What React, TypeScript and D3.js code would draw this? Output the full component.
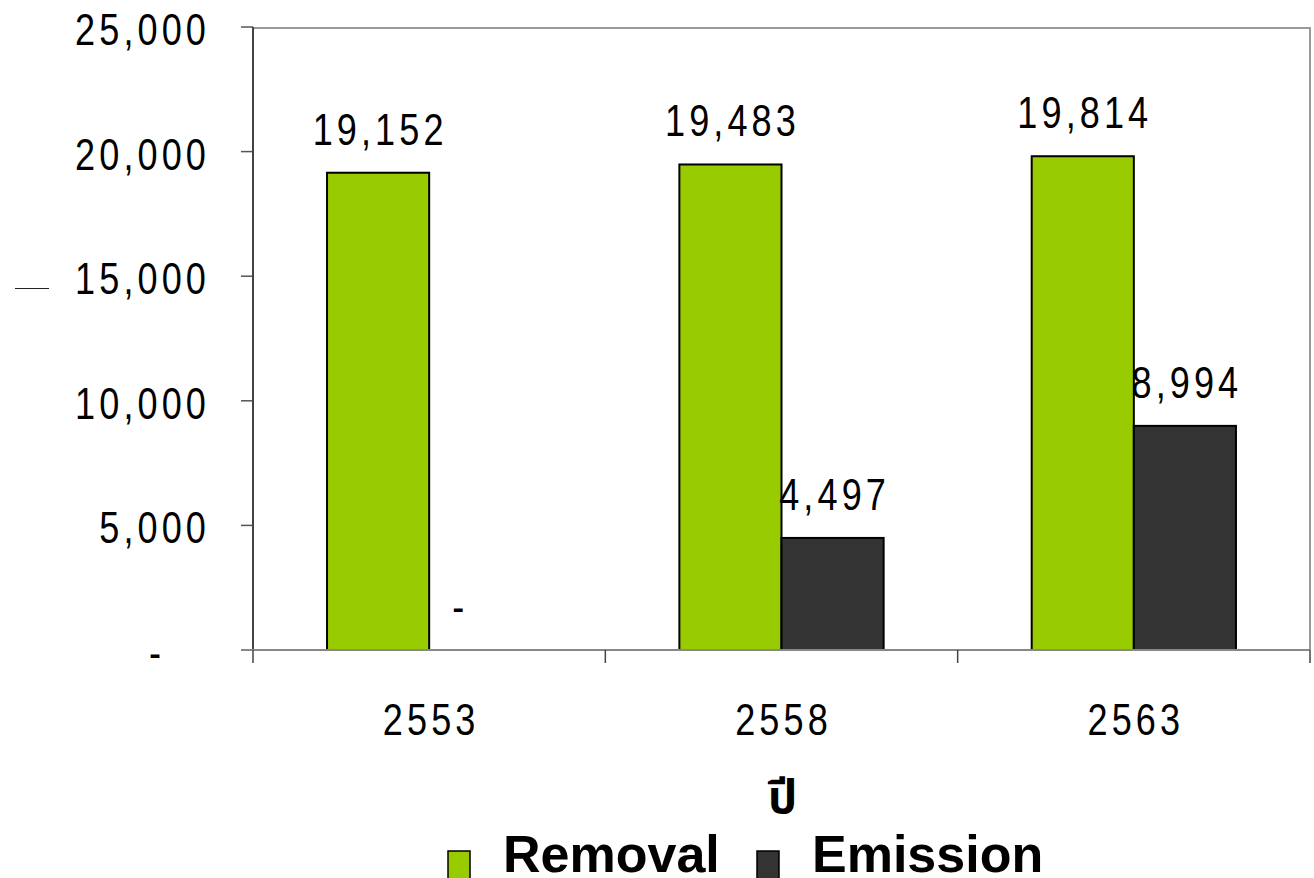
import React from "react";
import * as d3 from "d3";

const years = ["2553", "2558", "2563"];
const seriesNames = ["Removal", "Emission"];
const removal = [19152, 19483, 19814];
const emission = [0, 4497, 8994];
const yTicks = [0, 5000, 10000, 15000, 20000, 25000];
const colors = ["#99CC00", "#333333"];
const xTitle = "ปี";

const W = 1314;
const H = 878;
const m = { left: 253, right: 1310, top: 27, bottom: 650 };
const numFont = "'Liberation Sans', Arial, sans-serif";

const fmt = (v: number) => (v === 0 ? "-" : d3.format(",")(v));

function NumText({ x, y, anchor, children }: { x: number; y: number; anchor: string; children: React.ReactNode }) {
  return (
    <text
      transform={`translate(${x},${y}) scale(0.82,1)`}
      textAnchor={anchor}
      fontFamily={numFont}
      fontSize={44}
      letterSpacing={5}
      fill="#000"
    >
      {children}
    </text>
  );
}

export default function App() {
  const x0 = d3.scaleBand<string>().domain(years).range([m.left, m.right]).padding(0);
  const x1 = d3
    .scaleBand<string>()
    .domain(seriesNames)
    .range([0, x0.bandwidth()])
    .paddingInner(0)
    .paddingOuter(0.725);
  const y = d3.scaleLinear().domain([0, 25000]).range([m.bottom, m.top]);
  const values = [removal, emission];

  return (
    <svg
      width={W}
      height={H}
      style={{ position: "absolute", left: 0, top: 0, background: "#fff" }}
    >
      {/* stray axis title remnant */}
      <line x1={15} x2={49} y1={288.5} y2={288.5} stroke="#222" strokeWidth={1} />

      {/* plot frame */}
      <line x1={m.left} x2={m.right} y1={y(25000) + 1} y2={y(25000) + 1} stroke="#999" strokeWidth={2} />
      <line x1={m.right} x2={m.right} y1={y(25000)} y2={m.bottom} stroke="#999" strokeWidth={2} />

      {/* y ticks & labels */}
      {yTicks.map((t) => (
        <g key={t}>
          <line x1={m.left - 12} x2={m.left} y1={y(t)} y2={y(t)} stroke="#555" strokeWidth={1.5} />
          <NumText x={t === 0 ? 165 : 210} y={y(t) + 18} anchor="end">
            {fmt(t)}
          </NumText>
        </g>
      ))}

      {/* bars */}
      {years.map((yr, i) => (
        <g key={yr} transform={`translate(${x0(yr)},0)`}>
          {seriesNames.map((s, j) => {
            const v = values[j][i];
            const bx = x1(s)!;
            const bw = x1.bandwidth();
            return (
              <g key={s}>
                {v > 0 && (
                  <rect
                    x={bx}
                    y={y(v)}
                    width={bw}
                    height={y(0) - y(v)}
                    fill={colors[j]}
                    stroke="#000"
                    strokeWidth={2}
                  />
                )}
                <NumText x={v === 0 ? bx + bw / 2 - 20 : bx + bw / 2 + 2} y={y(v) - 28} anchor="middle">
                  {fmt(v)}
                </NumText>
              </g>
            );
          })}
        </g>
      ))}

      {/* axes */}
      <line x1={m.left} x2={m.left} y1={y(25000)} y2={m.bottom} stroke="#444" strokeWidth={2} />
      <line x1={m.left - 12} x2={m.right} y1={m.bottom} y2={m.bottom} stroke="#888" strokeWidth={2} />
      {[...years.map((yr) => x0(yr)!), m.right].map((xx, i) => (
        <line key={i} x1={xx} x2={xx} y1={m.bottom} y2={m.bottom + 13} stroke="#444" strokeWidth={1.5} />
      ))}
      {years.map((yr) => (
        <NumText key={yr} x={x0(yr)! + x0.bandwidth() / 2 + 2} y={735} anchor="middle">
          {yr}
        </NumText>
      ))}

      {/* x title */}
      <text
        x={(m.left + m.right) / 2 + 1}
        y={813}
        textAnchor="middle"
        fontFamily="'Noto Sans Thai', 'Loma', 'Garuda', 'Tahoma', sans-serif"
        fontSize={46}
        fontWeight="bold"
        fill="#000"
      >
        {xTitle}
      </text>

      {/* legend */}
      {seriesNames.map((s, j) => {
        const lx = j === 0 ? 448 : 757;
        return (
          <g key={s}>
            <rect x={lx} y={851} width={22} height={28} fill={colors[j]} stroke="#000" strokeWidth={1.5} />
            <text
              x={lx + 55}
              y={872}
              fontFamily="'Liberation Sans', Arial, sans-serif"
              fontWeight="bold"
              fontSize={52}
              fill="#000"
            >
              {s}
            </text>
          </g>
        );
      })}
    </svg>
  );
}
